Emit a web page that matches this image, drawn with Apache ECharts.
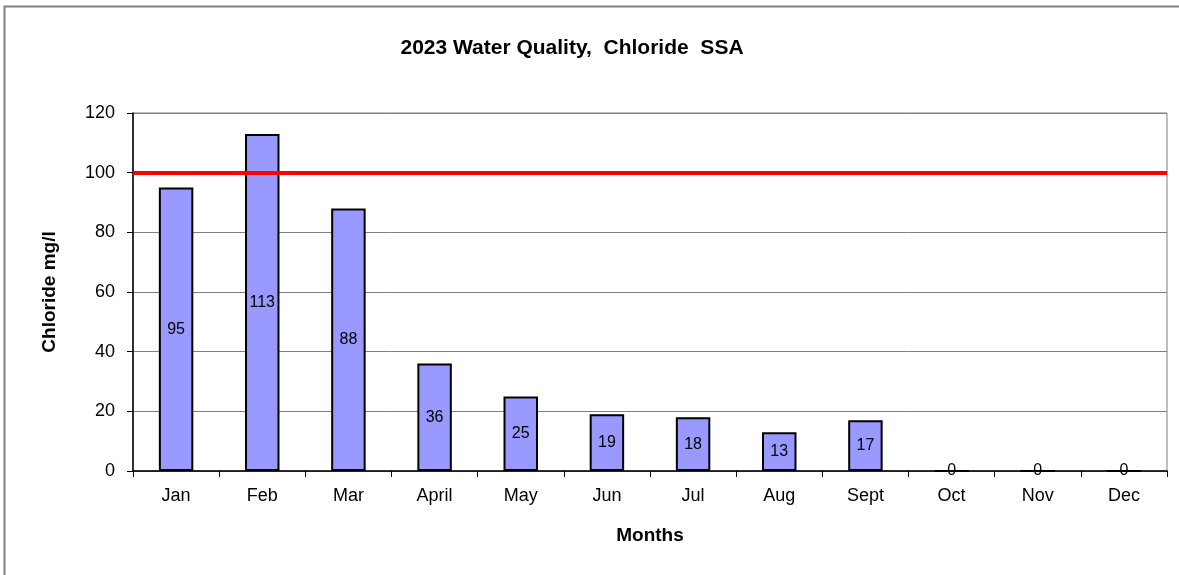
<!DOCTYPE html>
<html>
<head>
<meta charset="utf-8">
<script src="https://cdn.jsdelivr.net/npm/echarts@6/dist/echarts.min.js"></script>
<style>
html,body{margin:0;padding:0;background:#fff;}
#main{width:1179px;height:575px;}
</style>
</head>
<body>
<div id="main"></div>
<script>
const categories = ['Jan','Feb','Mar','April','May','Jun','Jul','Aug','Sept','Oct','Nov','Dec'];
const chloride = [95,113,88,36,25,19,18,13,17,0,0,0];
const limitValue = 100;
const yTicks = {min:0, max:120, interval:20};

const chart = echarts.init(document.getElementById('main'));
const font = '"Liberation Sans", Arial, sans-serif';
chart.setOption({
  animation:false,
  backgroundColor:'#fff',
  textStyle:{fontFamily:font},
  graphic:[{type:'rect',shape:{x:4.5,y:6.5,width:1200,height:600},style:{fill:'none',stroke:'#808080',lineWidth:2},silent:true}],
  title:{text:'2023 Water Quality,  Chloride  SSA',left:567,top:33,textAlign:'center',
    textStyle:{fontFamily:font,fontSize:21,fontWeight:'bold',color:'#000'}},
  grid:{left:133,right:12,top:113,bottom:104,show:true,borderColor:'#808080',borderWidth:1,backgroundColor:'transparent'},
  xAxis:{type:'category',data:categories,
    name:'Months',nameLocation:'middle',nameGap:55,
    nameTextStyle:{fontFamily:font,fontSize:19,fontWeight:'bold',color:'#000'},
    axisLine:{lineStyle:{color:'#000',width:1.5}},
    axisTick:{show:true,length:6,lineStyle:{color:'#000'}},
    axisLabel:{fontFamily:font,fontSize:18,color:'#000',margin:16},
    splitLine:{show:false}},
  yAxis:{type:'value',min:yTicks.min,max:yTicks.max,interval:yTicks.interval,
    name:'Chloride mg/l',nameLocation:'middle',nameRotate:90,nameGap:74,
    nameTextStyle:{fontFamily:font,fontSize:19,fontWeight:'bold',color:'#000'},
    axisLine:{show:true,lineStyle:{color:'#000',width:1.5}},
    axisTick:{show:true,length:6,lineStyle:{color:'#000'}},
    axisLabel:{fontFamily:font,fontSize:18,color:'#000',margin:18},
    splitLine:{show:true,lineStyle:{color:'#808080',width:1}}},
  series:[{type:'bar',data:chloride,barWidth:'40%',
    itemStyle:{color:'#9999FF',borderColor:'#000',borderWidth:2},
    label:{show:true,position:'inside',fontFamily:font,fontSize:16,color:'#000'},
    markLine:{silent:true,symbol:['none','none'],label:{show:false},
      lineStyle:{color:'#FF0000',width:4,type:'solid'},
      data:[{yAxis:limitValue}]}
  }]
});
</script>
</body>
</html>
